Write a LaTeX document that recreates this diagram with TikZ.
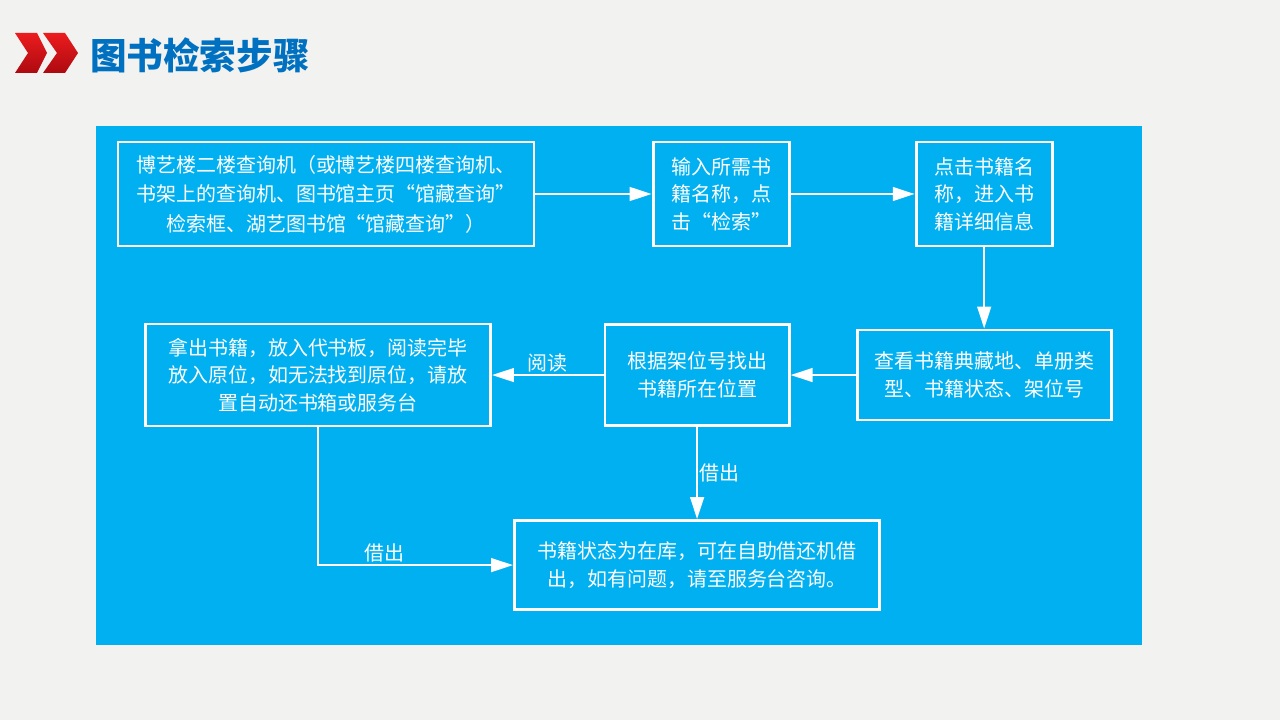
\documentclass[tikz,border=0pt]{standalone}
\usepackage{fontspec}
\newfontfamily\cjk{Noto Sans CJK SC}
\usetikzlibrary{positioning, arrows.meta}
\definecolor{panelblue}{RGB}{0,176,240}
\definecolor{titleblue}{RGB}{0,112,192}
\definecolor{slidegray}{RGB}{242,242,240}
\definecolor{chevtop}{RGB}{236,28,30}
\definecolor{chevbottom}{RGB}{172,10,16}

\begin{document}
\begin{tikzpicture}[x=0.025cm, y=-0.025cm, >={Triangle[length=5.5mm, width=3.4mm]}, on grid,
      stepbox/.style={draw=white, line width=2pt, text=white, align=center, inner sep=0pt,
        font=\cjk\fontsize{14.2}{19.5}\selectfont},
      flow/.style={->, color=white, line width=1.8pt},
      tag/.style={text=white, inner sep=1pt, font=\cjk\fontsize{14.2}{17}\selectfont}]
      \useasboundingbox (0,0) rectangle (1280,720);
      \fill[slidegray] (0,0) rectangle (1280,720);
      % title with double chevron
      \shade[top color=chevtop, bottom color=chevbottom] (15,33) -- (37,33) -- (47,53) -- (37,73) -- (15,73) -- (28,53) -- cycle;
      \shade[top color=chevtop, bottom color=chevbottom] (43,33) -- (65,33) -- (78,53) -- (65,73) -- (43,73) -- (57,53) -- cycle;
      \node[anchor=west, inner sep=0pt, text=titleblue, font=\cjk\bfseries\fontsize{26}{30}\selectfont] (title) at (90,55) {图书检索步骤};
      \fill[panelblue] (96,126) rectangle (1142,645);
      % steps
      \node[stepbox, minimum width=10.4cm, minimum height=2.6cm, font=\cjk\fontsize{14.2}{21}\selectfont] (query) at (326,194)
        {博艺楼二楼查询机（或博艺楼四楼查询机、\\书架上的查询机、图书馆主页“馆藏查询”\\检索框、湖艺图书馆“馆藏查询”）};
      \node[stepbox, align=left, minimum width=3.4cm, minimum height=2.6cm, right=9.875cm of query] (input) {输入所需书\\籍名称，点\\击“检索”};
      \node[stepbox, minimum width=3.4cm, minimum height=2.6cm, right=6.575cm of input] (detail) {点击书籍名\\称，进入书\\籍详细信息};
      \node[stepbox, minimum width=6.35cm, minimum height=2.25cm, below=4.525cm of detail] (holding) {查看书籍典藏地、单册类\\型、书籍状态、架位号};
      \node[stepbox, minimum width=4.6cm, minimum height=2.525cm, left=7.175cm of holding] (locate) {根据架位号找出\\书籍所在位置};
      \node[stepbox, minimum width=8.625cm, minimum height=2.55cm, left=9.475cm of locate] (read)
        {拿出书籍，放入代书板，阅读完毕\\放入原位，如无法找到原位，请放\\置自动还书箱或服务台};
      \node[stepbox, minimum width=9.125cm, minimum height=2.225cm, below=4.75cm of locate] (borrow)
        {书籍状态为在库，可在自助借还机借\\出，如有问题，请至服务台咨询。};
      \path[flow] (query) edge (input)
            (input) edge (detail)
            (detail) edge (holding)
            (holding) edge (locate)
            (locate) edge node[tag, above] {阅读} (read)
            (locate) edge node[tag, right] {借出} (borrow);
      \draw[flow] (read) |- node[tag, above, pos=0.67] {借出} (borrow);
    \end{tikzpicture}
\end{document}
